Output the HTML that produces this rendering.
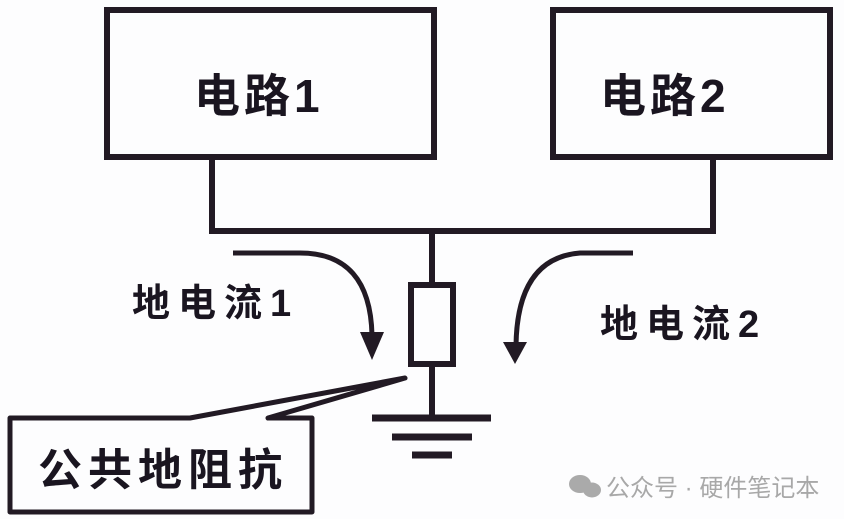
<!DOCTYPE html>
<html><head><meta charset="utf-8"><style>
body{margin:0;background:#fdfdfe;}
svg{display:block}
text{font-family:"Liberation Sans","Noto Sans CJK SC",sans-serif;fill:#1a1520;font-weight:bold}
</style></head><body>
<svg width="844" height="519" viewBox="0 0 844 519" xmlns="http://www.w3.org/2000/svg">
<g stroke="#221a24" stroke-width="6" fill="none">
<rect x="107" y="10" width="327" height="147"/>
<rect x="553" y="10" width="277" height="147"/>
<polyline points="212,157 212,231 713,231 713,157"/>
<line x1="432" y1="231" x2="432" y2="284"/>
<rect x="411" y="285" width="42" height="79"/>
<line x1="432" y1="364" x2="432" y2="418"/>
<line x1="372" y1="418" x2="491" y2="418" stroke-width="7"/>
<line x1="392" y1="437" x2="472" y2="437" stroke-width="7"/>
<line x1="412" y1="455" x2="452" y2="455" stroke-width="7"/>
<path d="M233,253 L300,253 Q370,253 372,335" stroke-width="5"/>
<path d="M633,253 L580,253 Q517,258 516,346" stroke-width="5"/>
<path d="M10,418 L190,418 L405,378 L268,418 L312,418 L312,512 L10,512 Z" stroke-width="5" stroke-linejoin="round"/>
</g>
<polygon points="360,332 384,332 372,360" fill="#221a24"/>
<polygon points="503,342 527,342 515,364" fill="#221a24"/>
<text x="194" y="112" font-size="46" letter-spacing="4">电路1</text>
<text x="600" y="112" font-size="46" letter-spacing="4">电路2</text>
<text x="132" y="316" font-size="38" letter-spacing="8">地电流1</text>
<text x="600" y="337" font-size="38" letter-spacing="8">地电流2</text>
<text x="38" y="485" font-size="44" letter-spacing="6">公共地阻抗</text>
<g fill="#aaa">
<ellipse cx="580" cy="484" rx="11" ry="9"/><ellipse cx="592" cy="490" rx="9" ry="7.5"/>
</g>
<text x="606" y="496" font-size="24" style="fill:#a8a8a8;font-weight:normal">公众号 · 硬件笔记本</text>
</svg>
</body></html>
